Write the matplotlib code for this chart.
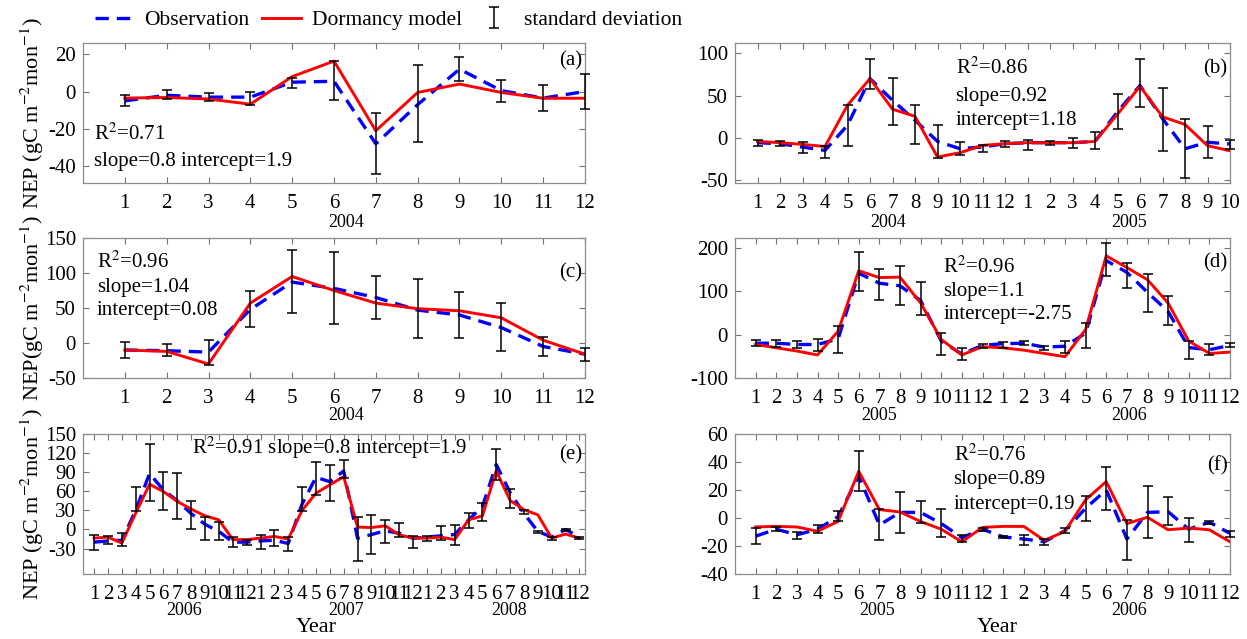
import numpy as np
import matplotlib.pyplot as plt
from matplotlib import transforms

plt.rcParams['font.family'] = ['Liberation Serif', 'DejaVu Serif']
plt.rcParams['mathtext.fontset'] = 'stix'
plt.rcParams['axes.unicode_minus'] = False

# month tick labels
months_a = [str(m) for m in range(1, 13)]
months_b = [str(m) for m in range(1, 13)] + [str(m) for m in range(1, 11)]
months_d = [str(m) for m in range(1, 13)] * 2
months_e = [str(m) for m in range(1, 13)] * 3

# (a) 2004
a_obs = [-5, -2, -3, -3, 5, 5.5, -28, -7, 12, 0.5, -3.5, 0]
a_mod = [-3.5, -3.2, -4, -6.8, 8, 16.3, -21, -0.5, 4, -0.5, -3.6, -3.6]
a_mid = [-5, -1.6, -3, -3.9, 4.8, 6, -27.8, -6.5, 12.2, 0.4, -3.6, 0]
a_sd = [3, 2.5, 2, 3.4, 2.7, 10.4, 16.5, 20.8, 6.5, 5.9, 7, 9.4]

# (b) 2004-2005
b_obs = [-5.5, -6.7, -10.6, -14.6, 15, 70, 44.5, 21, -4, -12.6, -10.6, -6.7,
         -5.5, -5.5, -5.5, -4, 31, 62, 23, -12.6, -5, -7]
b_mod = [-4, -5.5, -7.5, -10, 38.6, 70, 34, 25.6, -22.4, -17.3, -8.7, -6.7,
         -5.5, -5.5, -5.5, -4, 28, 61, 25, 16, -9, -15]
b_mid = [-6.1, -6.7, -11, -16.5, 14.4, 75, 43, 16, -4, -12.6, -12.6, -7.3,
         -8.7, -5.9, -5.9, -2.8, 31.3, 64.8, 21.9, -12.4, -4.5, -7.7]
b_sd = [3.3, 2.8, 6.3, 7.1, 24.2, 17.7, 28, 22.6, 19.7, 7.9, 3.9, 3.3,
        5.9, 2, 5.9, 9.8, 20.3, 28.2, 37.6, 34.4, 18.7, 4.9]

# (c) 2004
c_obs = [-10, -11, -13, 48, 87, 78, 65, 47, 40, 22, -5, -16]
c_mod = [-10, -12, -30, 57, 95, 75, 57, 49, 46, 36, 4, -16]
c_mid = [-10, -10, -13.5, 49, 88, 78.5, 65, 49, 40.5, 22.5, -4.5, -16.3]
c_sd = [11, 8, 17.5, 25.5, 44.5, 51.5, 31, 42, 33, 34, 13.5, 8.7]

# (d) 2005-2006
d_obs = [-20, -20, -23, -23, -10, 141, 118, 112, 78, -15, -45, -25,
         -21, -20, -29, -27, 3, 170, 143, 97, 53, -30, -35, -25]
d_mod = [-23, -30.5, -38, -47, 7.6, 146.6, 131, 132, 72.5, -11.5, -47, -28,
         -30.5, -36, -43.5, -51, 11.5, 181, 154, 126, 72.5, -15, -43.5, -40.5]
d_mid = [-20, -20, -23, -24, -11.5, 145, 115.6, 112, 83, -22, -45.4, -27.5,
         -24, -20, -30, -28.6, -2, 173, 136, 95, 56, -35, -34, -23.7]
d_sd = [7, 8, 7.7, 14, 30.5, 44, 35.5, 44.6, 37, 25.6, 13.4, 4.6,
        7, 5, 4.6, 13.4, 28.6, 38, 28, 44, 33, 21, 13, 4.6]

# (e) 2006-2008
e_obs = [-20, -18, -17, 30, 88, 62, 45, 25, 8, -3, -20, -20,
         -18, -17, -22, 40, 82, 75, 92, -14, -8, -2, -6, -14,
         -12, -10, -8, 15, 36, 102, 58, 25, -3, -12, 0, -12]
e_mod = [-13.6, -12, -21.4, 25.6, 71, 59.6, 44, 32, 21.4, 15, -16, -16,
         -13.6, -11, -15, 30, 57, 70, 83, 3.7, 3, 5.7, -8.4, -13.6,
         -13.6, -12, -16, 15, 21.4, 92, 45.5, 31, 23, -13.6, -7.3, -13.6]
e_mid = [-20.7, -16.7, -15.7, 47.8, 90, 61, 52, 23, 1.6, -2.6, -20, -20,
         -20, -13, -23, 48, 80, 73, 95, -15.5, -7.5, -3.7, -1, -20,
         -14.4, -6, -9, 14, 28, 102, 48, 28, -3.7, -14, -1.3, -13.5]
e_sd = [12.3, 5.7, 10, 18.5, 44.5, 30, 36, 22, 17.7, 13.6, 7.8, 4,
        11, 12.5, 11, 18.3, 25.6, 29, 14, 34.8, 30.5, 17.8, 11, 9,
        4.4, 11, 16, 11.8, 14, 24, 15, 3, 2, 2, 1.8, 1.5]

# (f) 2005-2006
f_obs = [-13, -8, -12, -8, 1, 30, -5, 4, 4, -4, -14, -8,
         -13.5, -15, -17, -9, 7, 20, -15, 4, 4.5, -8, -3, -11]
f_mod = [-6.4, -6, -6.4, -9.5, -2.4, 33.4, 6, 4.3, -2.5, -8, -17, -6.7,
         -6, -6, -16, -9.5, 13, 26, -4, 0.5, -8.4, -7.2, -8.4, -17]
f_mid = [-12.8, -7.8, -12.4, -7.8, 1.4, 33.4, -4.7, 3.8, 4.4, -3.6, -14.5, -8.4,
         -13.5, -15.5, -17, -9, 6.8, 21, -15.5, 4.2, 5, -8.4, -3.2, -11.3]
f_sd = [5.6, 1.2, 2.4, 3, 3.8, 14.3, 11.3, 14.6, 8, 10.3, 2.6, 1.2,
        0.8, 3.6, 2, 1.6, 8.7, 15.6, 14.3, 18.5, 9.8, 8.4, 0.8, 2.3]

W, H = 1247, 639
fig = plt.figure(figsize=(W / 100, H / 100), dpi=100)


def panel(box, obs, mod, mid, sd, xlabels, xlim, ylim, yticks, tag, tag_y):
    l, t, r, b = box
    ax = fig.add_axes([l / W, 1 - b / H, (r - l) / W, (b - t) / H])
    x = np.arange(1, len(obs) + 1)
    lo, = ax.plot(x, obs, color='#0000ff', lw=2.4, dashes=(4, 2.4), zorder=3)
    lm, = ax.plot(x, mod, color='#ff0000', lw=2.1, zorder=4)
    eb = ax.errorbar(x, mid, yerr=sd, fmt='none', ecolor='k', elinewidth=1.1,
                     capsize=3.5, capthick=1.1, zorder=5)
    for c in eb.lines[1] + eb.lines[2]:
        c.set_clip_on(False)
    ax.set_xlim(xlim)
    ax.set_ylim(ylim)
    ax.set_xticks(x)
    ax.set_xticklabels(xlabels)
    ax.set_yticks(yticks)
    ax.tick_params(direction='in', top=True, right=True, length=4, width=0.8,
                   color='0.45', labelsize=15)
    ax.tick_params(axis='x', pad=8)
    ax.tick_params(axis='y', pad=5)
    for s in ax.spines.values():
        s.set_color('0.55')
        s.set_linewidth(0.9)
    tr = transforms.blended_transform_factory(ax.transAxes, ax.transData)
    ax.text(0.995, tag_y, '(' + tag + ')', transform=tr, ha='right',
            va='center', fontsize=15)
    return ax, (lo, lm, eb)


def years(ax, pos, labels, y=-0.27):
    tr = transforms.blended_transform_factory(ax.transData, ax.transAxes)
    for p, s in zip(pos, labels):
        ax.text(p, y, s, transform=tr, ha='center', va='center', fontsize=13)


ax_a, handles = panel((83, 43, 585, 183), a_obs, a_mod, a_mid, a_sd, months_a,
                      (0, 12), (-49, 26), [-40, -20, 0, 20], 'a', 16.4)
ax_b, _ = panel((735, 43, 1230, 183), b_obs, b_mod, b_mid, b_sd, months_b,
                (0, 22), (-53, 112), [-50, 0, 50, 100], 'b', 82)
ax_c, _ = panel((83, 238, 585, 378), c_obs, c_mod, c_mid, c_sd, months_a,
                (0, 12), (-50, 150), [-50, 0, 50, 100, 150], 'c', 100)
ax_d, _ = panel((735, 238, 1230, 378), d_obs, d_mod, d_mid, d_sd, months_d,
                (0, 24), (-100, 222), [-100, 0, 100, 200], 'd', 164)
ax_e, _ = panel((83, 434, 585, 574), e_obs, e_mod, e_mid, e_sd, months_e,
                (0.2, 36.4), (-70, 150), [-30, 0, 30, 60, 90, 120, 150], 'e', 117)
ax_f, _ = panel((735, 434, 1230, 574), f_obs, f_mod, f_mid, f_sd, months_d,
                (0, 24), (-40, 60), [-40, -20, 0, 20, 40, 60], 'f', 37)

fs = 15
ax_a.text(0.26, -22.9, 'R$^2$=0.71', fontsize=fs, va='center')
ax_a.text(0.26, -37.5, 'slope=0.8 intercept=1.9', fontsize=fs, va='center')
ax_b.text(9.8, 82, 'R$^2$=0.86', fontsize=fs, va='center')
ax_b.text(9.8, 49, 'slope=0.92', fontsize=fs, va='center')
ax_b.text(9.8, 21, 'intercept=1.18', fontsize=fs, va='center')
ax_c.text(0.33, 116, 'R$^2$=0.96', fontsize=fs, va='center')
ax_c.text(0.33, 79, 'slope=1.04', fontsize=fs, va='center')
ax_c.text(0.33, 46, 'intercept=0.08', fontsize=fs, va='center')
ax_d.text(10.1, 156, 'R$^2$=0.96', fontsize=fs, va='center')
ax_d.text(10.1, 99, 'slope=1.1', fontsize=fs, va='center')
ax_d.text(10.1, 46, 'intercept=-2.75', fontsize=fs, va='center')
ax_e.text(8.05, 128, 'R$^2$=0.91 slope=0.8 intercept=1.9', fontsize=fs, va='center')
ax_f.text(10.6, 45, 'R$^2$=0.76', fontsize=fs, va='center')
ax_f.text(10.6, 27.4, 'slope=0.89', fontsize=fs, va='center')
ax_f.text(10.6, 9.5, 'intercept=0.19', fontsize=fs, va='center')

years(ax_a, [6.3], ['2004'], -0.28)
years(ax_b, [6.8, 17.5], ['2004', '2005'], -0.28)
years(ax_c, [6.3], ['2004'])
years(ax_d, [7.0, 19.1], ['2005', '2006'])
years(ax_e, [7.5, 19.2, 30.9], ['2006', '2007', '2008'], -0.26)
years(ax_f, [6.9, 19.1], ['2005', '2006'], -0.26)

for ax, xc in [(ax_e, (17 - 0.2) / 36.2), (ax_f, 12.7 / 24)]:
    ax.set_xlabel('Year', fontsize=16, va='center')
    ax.xaxis.set_label_coords(xc, -0.385)

for ax, lab in [(ax_a, 'NEP (gC m$^{-2}$mon$^{-1}$)'),
                (ax_c, 'NEP(gC m$^{-2}$mon$^{-1}$)'),
                (ax_e, 'NEP (gC m$^{-2}$mon$^{-1}$)')]:
    ax.set_ylabel(lab, fontsize=16)
    ax.yaxis.set_label_coords(-0.074, 0.5)

fig.legend(handles, ['Observation', 'Dormancy model', 'standard deviation'],
           loc='center left', bbox_to_anchor=(86 / W, 1 - 20 / H), ncol=3,
           frameon=False, fontsize=15.5, handlelength=1.8, columnspacing=0.6,
           handletextpad=0.5, borderaxespad=0)

fig.savefig('out.png', dpi=100)
